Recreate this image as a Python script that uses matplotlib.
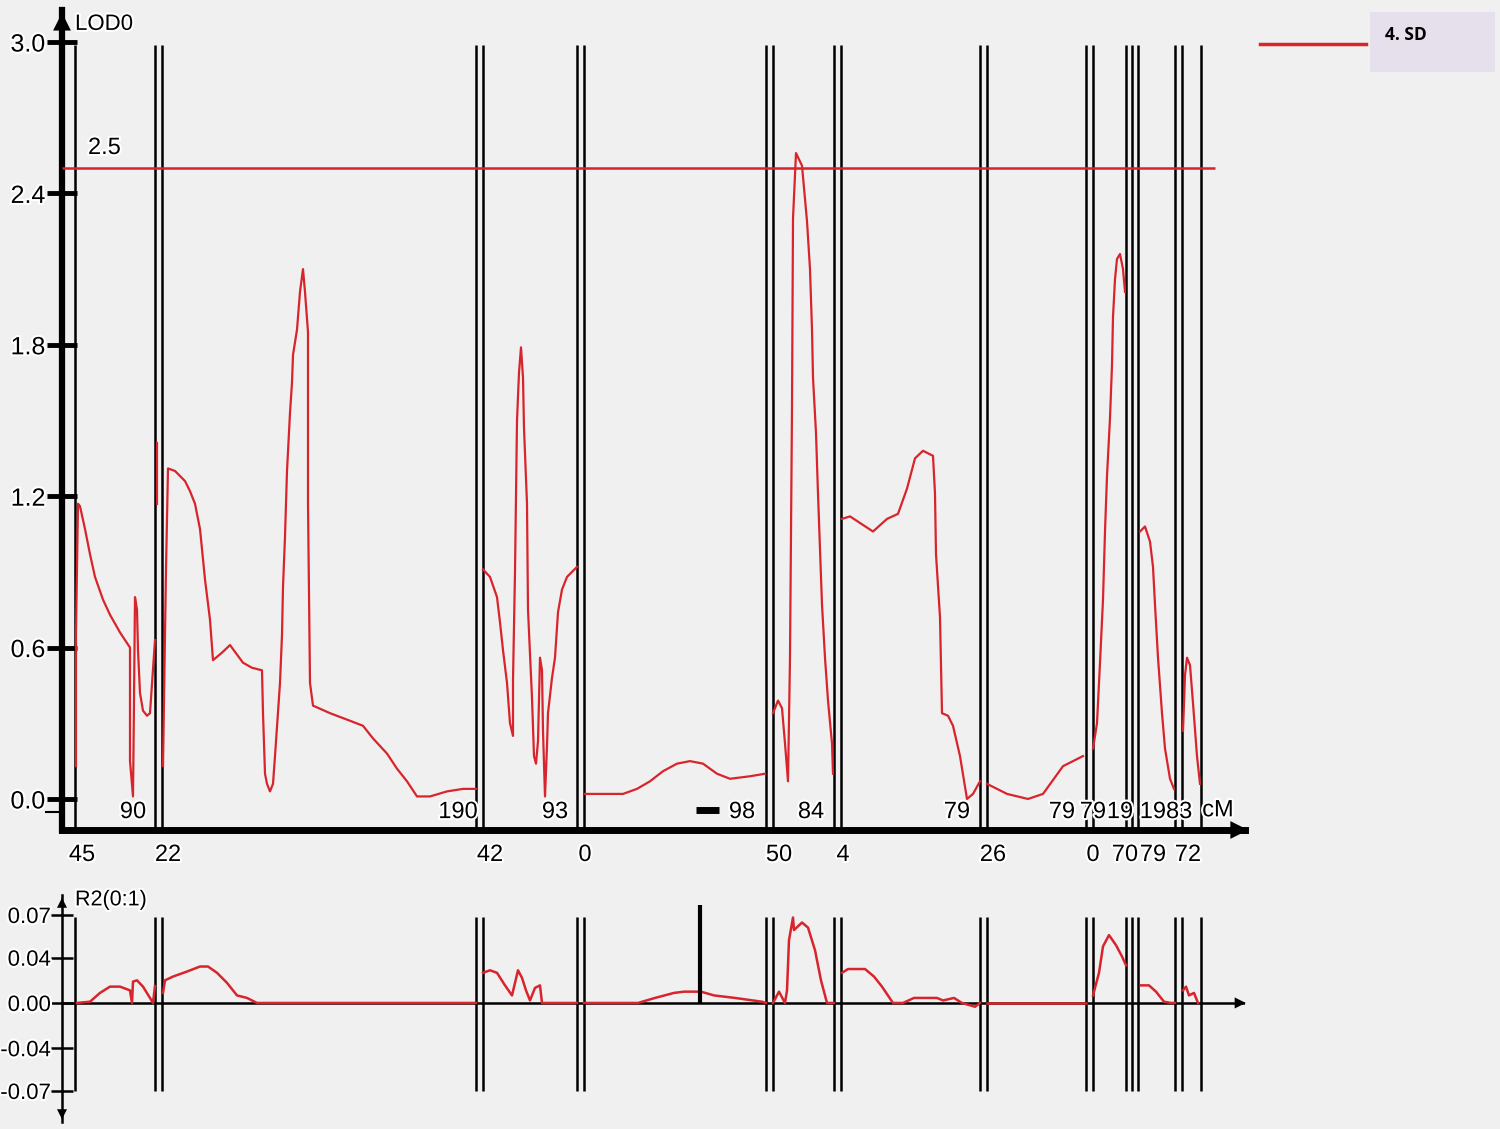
import matplotlib
matplotlib.use('Agg')
import matplotlib.pyplot as plt
import matplotlib.patheffects as pe
from matplotlib.patches import Rectangle

plt.rcParams['font.family'] = ['Liberation Sans', 'DejaVu Sans']

# ---- data (x = map position, arbitrary units) ----
marker_pos = [75, 155, 162, 476, 483, 577, 584, 766, 773, 834, 841,
              980, 987, 1086, 1093, 1126, 1132, 1138, 1175, 1182, 1201]

lod_ticks = [0.0, 0.6, 1.2, 1.8, 2.4, 3.0]
lod_tick_labels = ['0.0', '0.6', '1.2', '1.8', '2.4', '3.0']
threshold = 2.5

# LOD curve, one piece between neighbouring markers
lod_x = [
    [76, 76, 78, 80, 85, 90, 95, 103, 110, 120, 130, 130, 133, 134, 135, 137,
     138, 140, 143, 147, 150, 155],
    [157, 157],
    [163, 164, 166, 168, 175, 185, 190, 195, 200, 205, 210, 213, 222, 230, 243,
     252, 262, 263, 265, 267, 270, 273, 275, 280, 282, 283, 285, 287, 290, 292,
     293, 297, 300, 303, 305, 308, 308, 310, 313, 330, 350, 363, 373, 387, 397,
     407, 417, 430, 447, 463, 476],
    [483, 490, 497, 500, 503, 507, 510, 513, 513, 515, 517, 519, 521, 523, 524,
     527, 528, 532, 534, 536, 538, 540, 542, 543, 545, 547, 548, 552, 555, 558,
     562, 567, 577],
    [585, 623, 637, 650, 663, 677, 690, 703, 717, 730, 750, 765],
    [773, 778, 782, 785, 788, 790, 792, 793, 796, 802, 807, 810, 812, 813, 816,
     818, 820, 822, 825, 828, 832, 833],
    [842, 850, 873, 887, 898, 907, 915, 923, 933, 935, 936, 940, 942, 948, 953,
     960, 967, 973, 980],
    [987, 1007, 1028, 1043, 1063, 1083],
    [1093, 1097, 1100, 1103, 1105, 1107, 1110, 1112, 1113, 1115, 1117, 1120,
     1123, 1125],
    [1140, 1145, 1150, 1153, 1155, 1158, 1162, 1165, 1170, 1174],
    [1183, 1185, 1187, 1190, 1193, 1197, 1200],
]
lod_y = [
    [0.13, 0.66, 1.17, 1.16, 1.07, 0.97, 0.88, 0.79, 0.73, 0.66, 0.60, 0.15,
     0.01, 0.39, 0.80, 0.75, 0.59, 0.42, 0.35, 0.33, 0.34, 0.63],
    [1.17, 1.41],
    [0.13, 0.39, 0.91, 1.31, 1.30, 1.26, 1.22, 1.17, 1.07, 0.87, 0.71, 0.55,
     0.58, 0.61, 0.54, 0.52, 0.51, 0.34, 0.10, 0.06, 0.03, 0.06, 0.17, 0.46,
     0.65, 0.84, 1.04, 1.30, 1.53, 1.65, 1.76, 1.86, 2.01, 2.10, 2.01, 1.85,
     1.17, 0.46, 0.37, 0.34, 0.31, 0.29, 0.24, 0.18, 0.12, 0.07, 0.01, 0.01,
     0.03, 0.04, 0.04],
    [0.91, 0.88, 0.80, 0.70, 0.59, 0.46, 0.30, 0.25, 0.47, 0.90, 1.50, 1.69,
     1.79, 1.67, 1.47, 1.17, 0.75, 0.40, 0.17, 0.14, 0.23, 0.56, 0.51, 0.27,
     0.01, 0.21, 0.34, 0.48, 0.56, 0.74, 0.83, 0.88, 0.92],
    [0.02, 0.02, 0.04, 0.07, 0.11, 0.14, 0.15, 0.14, 0.10, 0.08, 0.09, 0.10],
    [0.34, 0.39, 0.36, 0.22, 0.07, 0.56, 1.55, 2.30, 2.56, 2.51, 2.29, 2.10,
     1.86, 1.67, 1.45, 1.21, 0.99, 0.77, 0.56, 0.39, 0.22, 0.10],
    [1.11, 1.12, 1.06, 1.11, 1.13, 1.23, 1.35, 1.38, 1.36, 1.21, 0.97, 0.72,
     0.34, 0.33, 0.29, 0.17, 0.00, 0.02, 0.07],
    [0.06, 0.02, 0.00, 0.02, 0.13, 0.17],
    [0.20, 0.30, 0.54, 0.79, 1.06, 1.28, 1.51, 1.72, 1.91, 2.06, 2.14, 2.16,
     2.10, 2.01],
    [1.06, 1.08, 1.02, 0.92, 0.77, 0.56, 0.34, 0.20, 0.08, 0.04],
    [0.27, 0.49, 0.56, 0.53, 0.38, 0.17, 0.06],
]

# R2 curve
r2_x = [
    [77, 90, 100, 110, 120, 130, 132, 133, 137, 143, 150, 153, 155],
    [163, 165, 173, 187, 200, 208, 217, 227, 237, 247, 257, 267, 476],
    [483, 490, 497, 505, 512, 518, 522, 526, 530, 535, 540, 542, 577],
    [584, 638, 655, 674, 684, 701, 714, 735, 762, 766],
    [773, 779, 785, 787, 789, 793, 794, 802, 808, 815, 821, 827, 834],
    [842, 848, 865, 874, 882, 893, 903, 914, 937, 943, 954, 962, 975, 980],
    [987, 1086],
    [1093, 1099, 1103, 1109, 1116, 1122, 1126],
    [1141, 1149, 1156, 1164, 1171, 1175],
    [1183, 1186, 1189, 1194, 1198],
]
r2_y = [
    [0.0, 0.001, 0.008, 0.013, 0.013, 0.010, 0.0, 0.017, 0.018, 0.013, 0.004,
     0.0, 0.0135],
    [0.008, 0.018, 0.021, 0.025, 0.029, 0.029, 0.024, 0.016, 0.006, 0.004,
     0.0, 0.0, 0.0],
    [0.024, 0.026, 0.024, 0.014, 0.006, 0.026, 0.020, 0.010, 0.002, 0.012,
     0.014, 0.0, 0.0],
    [0.0, 0.0, 0.004, 0.008, 0.009, 0.009, 0.006, 0.004, 0.001, 0.0],
    [0.0, 0.009, 0.0, 0.010, 0.050, 0.068, 0.058, 0.064, 0.060, 0.042, 0.018,
     0.0, 0.0],
    [0.024, 0.027, 0.027, 0.021, 0.013, 0.0, 0.0, 0.004, 0.004, 0.002, 0.004,
     0.0, -0.003, 0.0],
    [0.0, 0.0],
    [0.006, 0.024, 0.045, 0.054, 0.046, 0.037, 0.030],
    [0.014, 0.014, 0.009, 0.001, 0.0, 0.0],
    [0.010, 0.013, 0.006, 0.008, 0.0],
]
r2_ticks = [-0.07, -0.036, 0.0, 0.036, 0.07]
r2_tick_labels = ['-0.07', '-0.04', '0.00', '0.04', '0.07']
r2_peak_marker = (700, 0.078)

# marker distance labels
upper_lab_x = [133, 458, 555, 742, 811, 957, 1062, 1093, 1120, 1166]
upper_lab = ['90', '190', '93', '98', '84', '79', '79', '79', '19', '1983']
lower_lab_x = [82, 168, 490, 585, 779, 843, 993, 1093, 1125, 1153, 1188]
lower_lab = ['45', '22', '42', '0', '50', '4', '26', '0', '70', '79', '72']

RED = '#d8242c'
BG = '#f0f0f0'
W, H = 1500, 1129
halo = [pe.withStroke(linewidth=3, foreground='white')]


def px_box(x0, x1, ytop, ybot):
    return [x0 / W, 1 - ybot / H, (x1 - x0) / W, (ybot - ytop) / H]


fig = plt.figure(figsize=(W / 100, H / 100), dpi=100, facecolor=BG)

# ---------------- LOD panel ----------------
ax = fig.add_axes(px_box(62, 1245, 10, 830))
ax.set_facecolor('none')
ax.set_xlim(62, 1245)
ax.set_ylim(-0.123, 3.127)
for s in ('top', 'right'):
    ax.spines[s].set_visible(False)
ax.spines['left'].set_linewidth(4.5)
ax.spines['bottom'].set_linewidth(5)
ax.set_xticks([])
ax.set_yticks(lod_ticks)
ax.set_yticklabels(lod_tick_labels)
ax.tick_params(axis='y', direction='inout', length=22, width=3.5,
               labelsize=18, pad=1)
ax.set_yticks([-0.05], minor=True)
ax.tick_params(axis='y', which='minor', direction='out', length=12, width=1.5)
for lbl in ax.get_yticklabels():
    lbl.set_path_effects(halo)

ax.annotate('', xy=(0, 1.0), xycoords='axes fraction', xytext=(0, 0.96),
            arrowprops=dict(arrowstyle='-|>', color='k', lw=0,
                            mutation_scale=32))
ax.annotate('', xy=(1.005, 0), xycoords='axes fraction', xytext=(0.97, 0),
            arrowprops=dict(arrowstyle='-|>', color='k', lw=0,
                            mutation_scale=32), annotation_clip=False)

ax.vlines(marker_pos, -0.123, 2.99, color='black', lw=1.8, zorder=2)
ax.hlines(threshold, 62, 1215, color=RED, lw=1.8, zorder=3)
ax.text(88, 2.58, '2.5', fontsize=17, va='center', ha='left',
        path_effects=halo)

for xs, ys in zip(lod_x, lod_y):
    ax.plot(xs, ys, color=RED, lw=1.6, zorder=4)

ax.text(75, 3.07, 'LOD0', fontsize=16, va='center', ha='left',
        path_effects=halo)
for x, t in zip(upper_lab_x, upper_lab):
    ax.text(x, -0.052, t, fontsize=17, ha='center', va='center',
            path_effects=halo, zorder=5)
for x, t in zip(lower_lab_x, lower_lab):
    ax.text(x, -0.222, t, fontsize=17, ha='center', va='center',
            path_effects=halo, clip_on=False)
ax.text(1218, -0.045, 'cM', fontsize=17, ha='center', va='center',
        path_effects=halo)
ax.plot([696, 719], [-0.045, -0.045], color='black', lw=5,
        solid_capstyle='butt')

# ---------------- R2 panel ----------------
ax2 = fig.add_axes(px_box(62, 1245, 895, 1122))
ax2.set_facecolor('none')
ax2.set_xlim(62, 1245)
ax2.set_ylim(-0.0947, 0.0859)
for s in ('top', 'right', 'bottom'):
    ax2.spines[s].set_visible(False)
ax2.spines['left'].set_linewidth(1.8)
ax2.set_xticks([])
ax2.set_yticks(r2_ticks)
ax2.set_yticklabels(r2_tick_labels)
ax2.tick_params(axis='y', direction='inout', length=16, width=1.8,
                labelsize=16, pad=0)
for lbl in ax2.get_yticklabels():
    lbl.set_path_effects(halo)
ax2.axhline(0, color='black', lw=1.8, zorder=2)
ax2.annotate('', xy=(0, 1.0), xycoords='axes fraction', xytext=(0, 0.9),
             arrowprops=dict(arrowstyle='-|>', color='k', lw=0,
                             mutation_scale=18))
ax2.annotate('', xy=(0, 0.0), xycoords='axes fraction', xytext=(0, 0.1),
             arrowprops=dict(arrowstyle='-|>', color='k', lw=0,
                             mutation_scale=18))
ax2.annotate('', xy=(1.003, 0.0947 / 0.1806), xycoords='axes fraction',
             xytext=(0.985, 0.0947 / 0.1806),
             arrowprops=dict(arrowstyle='-|>', color='k', lw=0,
                             mutation_scale=20), annotation_clip=False)

ax2.vlines(marker_pos, -0.070, 0.068, color='black', lw=1.8, zorder=2)
ax2.vlines(r2_peak_marker[0], 0, r2_peak_marker[1], color='black', lw=3,
           zorder=5)
for xs, ys in zip(r2_x, r2_y):
    ax2.plot(xs, ys, color=RED, lw=1.8, zorder=4)
ax2.text(75, 0.082, 'R2(0:1)', fontsize=15.5, va='center', ha='left',
         path_effects=halo)

# ---------------- legend ----------------
leg = fig.add_axes([0, 0, 1, 1])
leg.set_xlim(0, W)
leg.set_ylim(H, 0)
leg.axis('off')
leg.add_patch(Rectangle((1370, 12), 125, 60, facecolor='#e6e0ed',
                        edgecolor='none'))
leg.plot([1260, 1366], [44, 44], color=RED, lw=2.5)
leg.text(1385, 35, '4. SD', fontsize=12.5, fontweight='bold', va='center',
         ha='left', family=['Open Sans', 'DejaVu Sans'])

fig.savefig('out.png', dpi=100, facecolor=BG)
